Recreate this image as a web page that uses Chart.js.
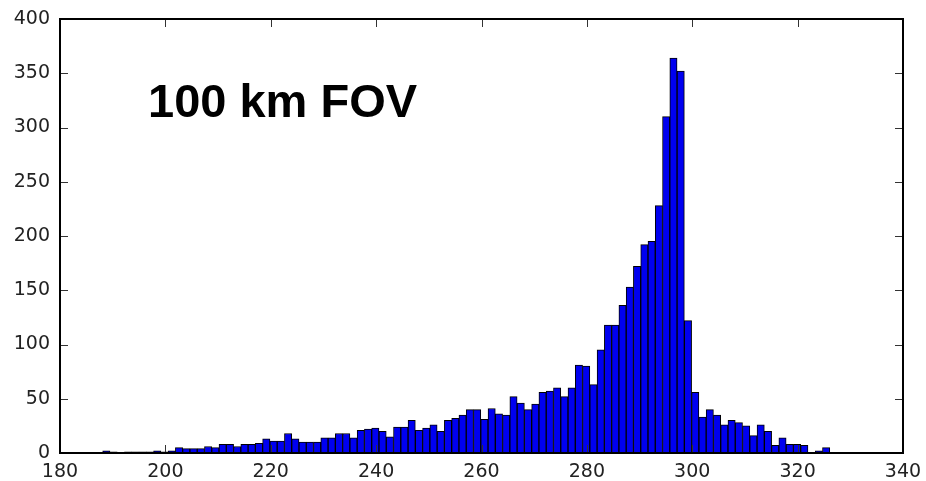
<!DOCTYPE html>
<html>
<head>
<meta charset="utf-8">
<script src="https://cdn.jsdelivr.net/npm/chart.js@4"></script>
<style>
  html, body { margin: 0; padding: 0; background: #fff; }
  #wrap { width: 926px; height: 481px; }
</style>
</head>
<body>
<div id="wrap"><canvas id="histChart" width="926" height="481"></canvas></div>
<script>
// histogram bins: first edge and width, counts
const binStart = 188.1;
const binWidth = 1.38;
const counts = [
    2, 1, 0, 1, 1, 1, 1, 2, 1, 2,
    5, 4, 4, 4, 6, 5, 8, 8, 6, 8,
    8, 9, 13, 11, 11, 18, 13, 10, 10, 10,
    14, 14, 18, 18, 14, 21, 22, 23, 20, 15,
    24, 24, 30, 21, 23, 26, 20, 30, 32, 35,
    40, 40, 31, 41, 36, 35, 52, 46, 40, 45,
    56, 57, 60, 52, 60, 81, 80, 63, 95, 118,
    118, 136, 153, 172, 192, 195, 228, 310, 364, 352,
    122, 56, 33, 40, 35, 26, 30, 28, 25, 16,
    26, 20, 7, 14, 8, 8, 7, 0, 2, 5
];
const xTicks = [180, 200, 220, 240, 260, 280, 300, 320, 340];
const yTicks = [0, 50, 100, 150, 200, 250, 300, 350, 400];
const label = '100 km FOV';

const histData = counts.map((c, i) => ({ x: binStart + binWidth * (i + 0.5), y: c }));

// matplotlib style box with inward ticks, plus the text label
const frame = {
    id: 'frame',
    afterDatasetsDraw(chart) {
        const ctx = chart.ctx;
        const a = chart.chartArea;
        const xs = chart.scales.x;
        const ys = chart.scales.y;
        ctx.save();
        ctx.strokeStyle = '#333';
        ctx.lineWidth = 1;
        ctx.beginPath();
        xTicks.forEach(t => {
            const px = Math.round(xs.getPixelForValue(t)) + 0.5;
            ctx.moveTo(px, a.bottom); ctx.lineTo(px, a.bottom - 8);
            ctx.moveTo(px, a.top); ctx.lineTo(px, a.top + 8);
        });
        yTicks.forEach(t => {
            const py = Math.round(ys.getPixelForValue(t)) + 0.5;
            ctx.moveTo(a.left, py); ctx.lineTo(a.left + 8, py);
            ctx.moveTo(a.right, py); ctx.lineTo(a.right - 8, py);
        });
        ctx.stroke();
        ctx.strokeStyle = '#000';
        ctx.lineWidth = 2;
        ctx.strokeRect(a.left, a.top, a.right - a.left, a.bottom - a.top);

        ctx.fillStyle = '#000';
        ctx.font = 'bold 47px "Liberation Sans", Arial, sans-serif';
        ctx.textAlign = 'left';
        ctx.textBaseline = 'alphabetic';
        ctx.fillText(label, xs.getPixelForValue(196.7), ys.getPixelForValue(309.5));
        ctx.restore();
    }
};

const histChart = new Chart(document.getElementById('histChart'), {
    type: 'bar',
    data: {
        datasets: [{
            data: histData,
            backgroundColor: '#0000f0',
            borderColor: '#000',
            borderWidth: 1,
            barPercentage: 1,
            categoryPercentage: 1
        }]
    },
    options: {
        responsive: false,
        animation: false,
        layout: { padding: { top: 19, right: 23, left: 0, bottom: 0 } },
        plugins: {
            legend: { display: false },
            tooltip: { enabled: false }
        },
        scales: {
            x: {
                type: 'linear',
                min: 180,
                max: 340,
                offset: false,
                grid: { display: false },
                border: { display: false },
                afterFit: s => { s.height = 28; },
                afterBuildTicks: s => { s.ticks = xTicks.map(v => ({ value: v })); },
                ticks: {
                    color: '#222',
                    padding: 0,
                    maxRotation: 0,
                    font: { family: '"DejaVu Sans", sans-serif', size: 19 }
                }
            },
            y: {
                min: 0,
                max: 400,
                grid: { display: false },
                border: { display: false },
                afterFit: s => { s.width = 60; },
                afterBuildTicks: s => { s.ticks = yTicks.map(v => ({ value: v })); },
                ticks: {
                    color: '#222',
                    padding: 2,
                    font: { family: '"DejaVu Sans", sans-serif', size: 19 }
                }
            }
        }
    },
    plugins: [frame]
});
</script>
</body>
</html>
